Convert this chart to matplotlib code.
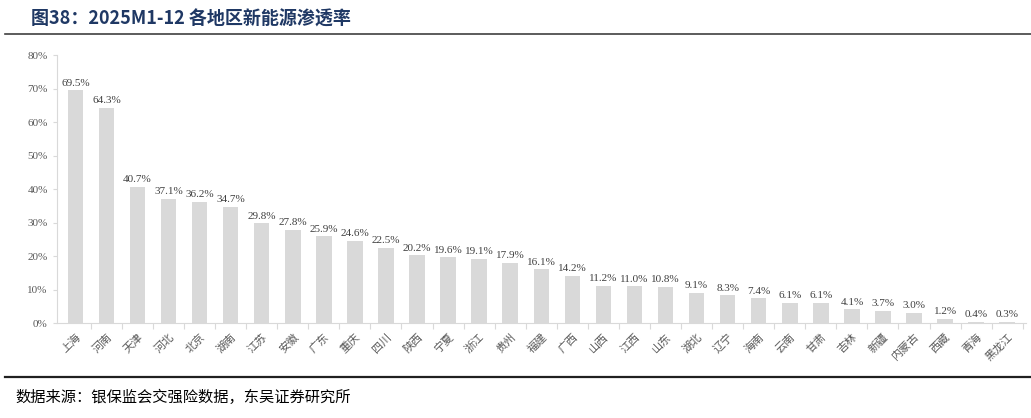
import matplotlib
matplotlib.use("Agg")
import matplotlib.pyplot as plt
from matplotlib.lines import Line2D
from matplotlib.ticker import PercentFormatter

plt.rcParams['font.family'] = ['Noto Sans CJK SC', 'DejaVu Sans']

regions = ["上海","河南","天津","河北","北京","湖南","江苏","安徽","广东","重庆","四川","陕西","宁夏","浙江",
           "贵州","福建","广西","山西","江西","山东","湖北","辽宁","海南","云南","甘肃","吉林","新疆","内蒙古",
           "西藏","青海","黑龙江"]
values = [69.5,64.3,40.7,37.1,36.2,34.7,29.8,27.8,25.9,24.6,22.5,20.2,19.6,19.1,17.9,16.1,14.2,11.2,11.0,10.8,
          9.1,8.3,7.4,6.1,6.1,4.1,3.7,3.0,1.2,0.4,0.3]
yticks = [0,10,20,30,40,50,60,70,80]

fig = plt.figure(figsize=(10.31,4.18), dpi=100)
ax = fig.add_axes([0.055,0.227,0.94,0.641])
x = range(len(regions))
ax.bar(x, values, width=0.5, color='#d9d9d9')
for i,v in enumerate(values):
    ax.text(i, v+0.8, f"{v:.1f}%", ha='center', va='bottom', fontsize=8, color='#404040', family='Liberation Serif')
ax.set_ylim(0,80)
ax.set_xlim(-0.6, len(regions)-0.4)
ax.set_yticks(yticks)
ax.yaxis.set_major_formatter(PercentFormatter(decimals=0))
for lab in ax.get_yticklabels():
    lab.set_family('Liberation Serif')
ax.tick_params(axis='y', labelsize=8, colors='#595959', length=3, color='#d9d9d9')
ax.set_xticks([i+0.5 for i in x], minor=False)
ax.set_xticklabels([])
ax.set_xticks(list(x), minor=True)
ax.set_xticklabels(regions, minor=True, rotation=45, ha='right', rotation_mode='anchor', fontsize=8, color='#595959')
ax.tick_params(axis='x', which='major', length=4, color='#d9d9d9')
ax.tick_params(axis='x', which='minor', length=0, pad=6)
for s in ['top','right']:
    ax.spines[s].set_visible(False)
ax.spines['left'].set_color('#d9d9d9')
ax.spines['bottom'].set_color('#d9d9d9')

fig.text(0.03, 0.955, "图38：2025M1-12 各地区新能源渗透率", fontsize=13, fontweight='bold', color='#1f3864', va='center')
fig.add_artist(Line2D([0.005,1.0],[0.918,0.918], color='#404040', lw=1.2, transform=fig.transFigure))
fig.add_artist(Line2D([0.005,1.0],[0.098,0.098], color='#202020', lw=1.6, transform=fig.transFigure))
fig.text(0.015, 0.05, "数据来源：银保监会交强险数据，东吴证券研究所", fontsize=11, color='#000000', va='center')
fig.savefig("out.png", dpi=100)
